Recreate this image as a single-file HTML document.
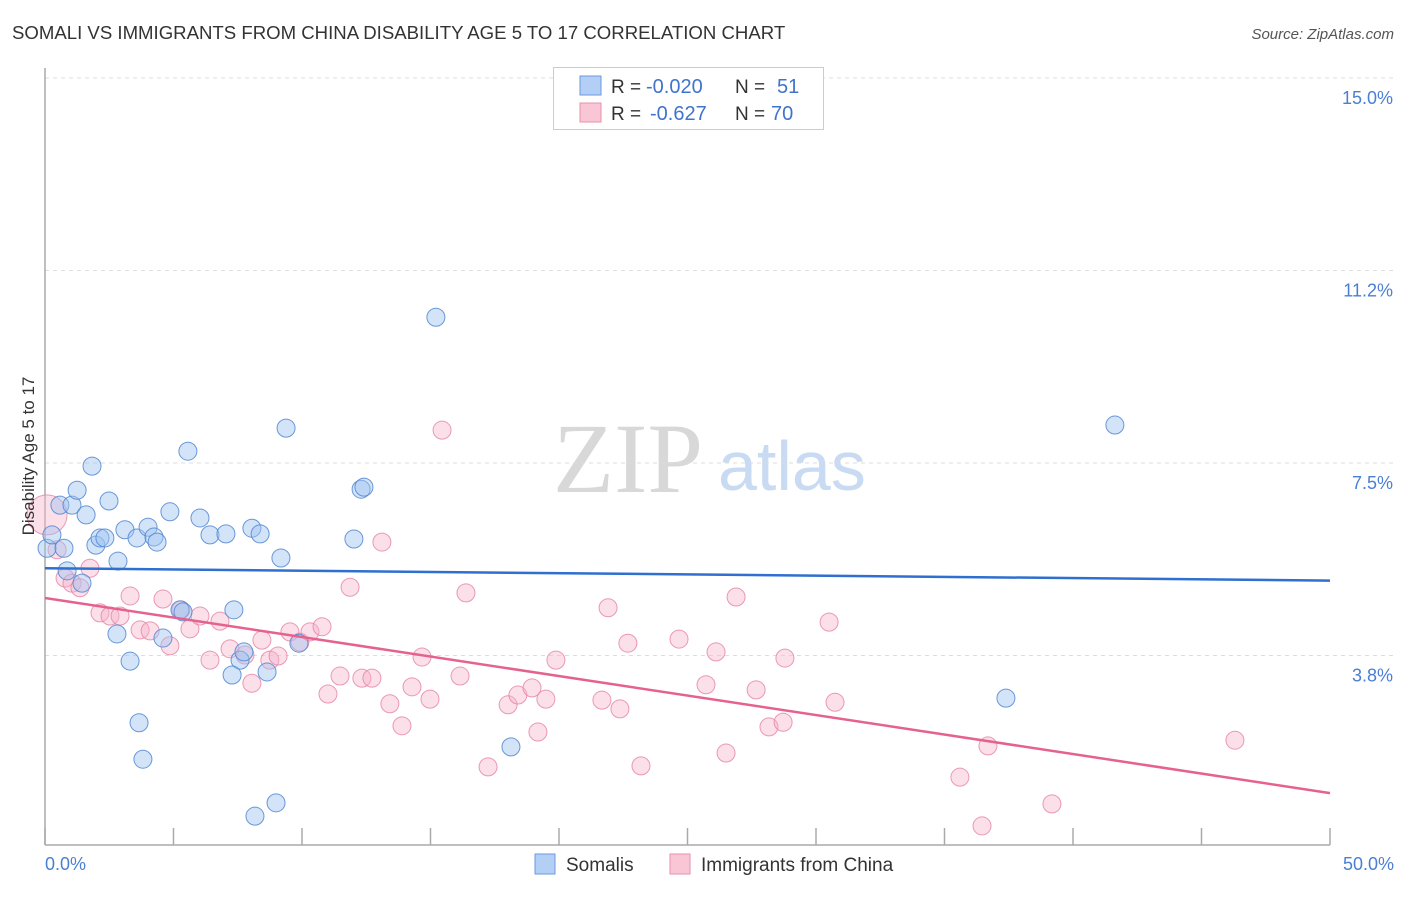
<!DOCTYPE html>
<html><head><meta charset="utf-8"><style>
body{margin:0;background:#fff;font-family:"Liberation Sans",sans-serif;}
</style></head><body>
<svg id="c" width="1406" height="892" viewBox="0 0 1406 892" font-family="Liberation Sans, sans-serif">
<text x="12" y="39" font-size="18.6" fill="#333">SOMALI VS IMMIGRANTS FROM CHINA DISABILITY AGE 5 TO 17 CORRELATION CHART</text>
<text x="1394" y="39" font-size="15" fill="#555" font-style="italic" text-anchor="end">Source: ZipAtlas.com</text>
<g>
<text x="553" y="492" font-size="100" fill="#d8d8d8" style="font-family:'Liberation Serif',serif">ZIP</text>
<text x="718" y="490" font-size="70" fill="#c8dbf2">atlas</text>
</g>
<g id="grid"></g><g id="axes"></g><g id="pts"></g><g id="trend"></g>
<text transform="translate(34,456) rotate(-90)" font-size="17" fill="#333" text-anchor="middle">Disability Age 5 to 17</text>
<text x="45" y="870" font-size="18" fill="#4a7fd4">0.0%</text>
<text x="1394" y="870" font-size="18" fill="#4a7fd4" text-anchor="end">50.0%</text>
<g>
<rect x="553.5" y="67.5" width="270" height="62" fill="#fff" stroke="#ccc"/>
<rect x="580" y="76" width="21" height="19" fill="#b3cff5" stroke="#6a9ae0"/>
<rect x="580" y="103" width="21" height="19" fill="#f9c6d6" stroke="#e88fae"/>
<text x="611" y="93" font-size="19" fill="#333">R =</text>
<text x="646" y="93" font-size="20" fill="#3f74cc">-0.020</text>
<text x="735" y="93" font-size="19" fill="#333">N =</text>
<text x="777" y="93" font-size="20" fill="#3f74cc">51</text>
<text x="611" y="120" font-size="19" fill="#333">R =</text>
<text x="650" y="120" font-size="20" fill="#3f74cc">-0.627</text>
<text x="735" y="120" font-size="19" fill="#333">N =</text>
<text x="771" y="120" font-size="20" fill="#3f74cc">70</text>
</g>
<g>
<rect x="535" y="854" width="20" height="20" fill="#b3cff5" stroke="#6a9ae0"/>
<text x="566" y="871" font-size="19" fill="#333">Somalis</text>
<rect x="670" y="854" width="20" height="20" fill="#f9c6d6" stroke="#e88fae"/>
<text x="701" y="871" font-size="19" fill="#333">Immigrants from China</text>
</g>
</svg>
<script>
const yTicks=[3.75,7.5,11.25,15];
const yTickLabels=["3.8%","7.5%","11.2%","15.0%"];
const xTicks=[0,5,10,15,20,25,30,35,40,45,50];
const somaliX=[0.08,0.27,0.58,0.74,1.05,1.25,1.60,1.83,1.98,2.14,2.33,2.49,2.84,3.11,3.58,4.01,4.24,4.36,4.86,5.25,5.37,5.56,6.03,6.42,7.04,7.35,7.59,7.74,8.05,8.37,8.64,9.18,9.38,9.88,12.02,12.30,12.41,15.21,2.80,3.31,3.66,3.81,4.59,1.44,0.86,7.28,8.17,8.99,18.13,37.39,41.63];
const somaliY=[5.84,6.10,6.68,5.84,6.68,6.97,6.49,7.44,5.90,6.04,6.04,6.76,5.59,6.20,6.04,6.25,6.06,5.96,6.55,4.64,4.60,7.73,6.43,6.10,6.12,4.64,3.66,3.82,6.23,6.12,3.43,5.65,8.18,3.99,6.02,6.99,7.03,10.34,4.17,3.64,2.44,1.73,4.09,5.16,5.40,3.37,0.62,0.88,1.97,2.92,8.24];
const chinaX=[0.08,0.47,0.78,1.05,1.36,1.75,2.14,2.53,2.92,3.31,3.70,4.09,4.59,4.86,5.29,5.64,6.03,6.42,6.81,7.20,7.78,8.05,8.44,8.75,9.07,9.53,9.92,10.31,10.78,11.01,11.48,11.87,12.33,12.72,13.11,13.42,13.89,14.28,14.67,14.98,15.45,16.15,16.38,17.24,18.02,18.40,18.95,19.18,19.49,19.88,21.67,21.91,22.37,22.68,23.19,24.67,25.72,26.11,26.50,26.89,27.67,28.17,28.72,28.79,30.51,30.74,35.60,36.69,36.46,39.18,46.30];
const chinaY=[6.49,5.81,5.26,5.16,5.07,5.45,4.58,4.52,4.52,4.91,4.25,4.23,4.85,3.94,4.64,4.27,4.52,3.66,4.42,3.88,3.76,3.21,4.05,3.66,3.74,4.21,4.01,4.21,4.31,3.00,3.35,5.08,3.31,3.31,5.96,2.81,2.38,3.14,3.72,2.90,8.14,3.35,4.97,1.58,2.79,2.98,3.12,2.26,2.90,3.66,2.88,4.68,2.71,3.99,1.60,4.07,3.18,3.82,1.85,4.89,3.08,2.36,2.45,3.70,4.40,2.84,1.38,1.99,0.43,0.86,2.10];
const somaliTrend=[5.45,5.21];
const chinaTrend=[4.87,1.07];
const trendX=[0,50];
const NS='http://www.w3.org/2000/svg';
const X=v=>45+v*25.7, Y=v=>848-v*51.33;
function mk(t,a,p){const e=document.createElementNS(NS,t);for(const k in a)e.setAttribute(k,a[k]);p.appendChild(e);return e;}
const grid=document.getElementById('grid'),axes=document.getElementById('axes'),pts=document.getElementById('pts'),tr=document.getElementById('trend');
yTicks.forEach((v,i)=>{
 const l=mk('line',{x1:45,x2:1394,y1:Y(v),y2:Y(v),stroke:'#ddd','stroke-dasharray':'4,4'},grid);
 
 
 const t=mk('text',{x:1393,y:Y(v)+26,'font-size':18,fill:'#4a7fd4','text-anchor':'end'},grid);
 t.textContent=yTickLabels[i];
 
 
});
const ya=mk('line',{x1:45,x2:45,y1:68,y2:845,stroke:'#aaa','stroke-width':1.5},axes);


const xa=mk('line',{x1:45,x2:1330,y1:845,y2:845,stroke:'#aaa','stroke-width':1.5},axes);


xTicks.forEach(v=>{
 const t=mk('line',{x1:X(v),x2:X(v),y1:828,y2:845,stroke:'#aaa','stroke-width':1.5},axes);
 
 
});
chinaX.forEach((x,i)=>{
 const c=mk('circle',{cx:X(x),cy:Y(chinaY[i]),r:i===0?20:9,fill:'rgba(246,178,202,0.42)',stroke:'rgba(230,130,165,0.8)','stroke-width':1},pts);
 
 
});
somaliX.forEach((x,i)=>{
 const c=mk('circle',{cx:X(x),cy:Y(somaliY[i]),r:9,fill:'rgba(160,196,240,0.45)',stroke:'rgba(80,135,210,0.85)','stroke-width':1},pts);
 
 
});
const l1=mk('line',{x1:X(trendX[0]),x2:X(trendX[1]),y1:Y(somaliTrend[0]),y2:Y(somaliTrend[1]),stroke:'#2f6fcf','stroke-width':2.5},tr);


const l2=mk('line',{x1:X(trendX[0]),x2:X(trendX[1]),y1:Y(chinaTrend[0]),y2:Y(chinaTrend[1]),stroke:'#e5628f','stroke-width':2.5},tr);


</script>
</body></html>
